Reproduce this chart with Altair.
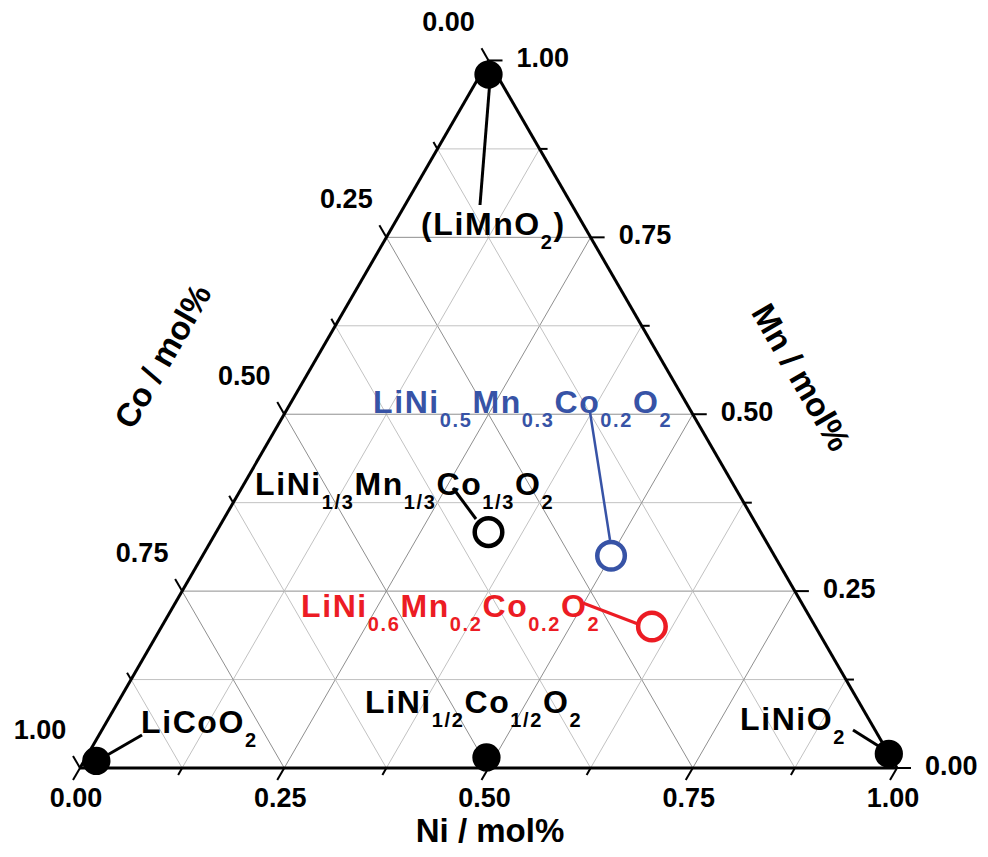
import math
import altair as alt
import pandas as pd

# ---------------- data ----------------
# compositions (Ni, Mn, Co) of the plotted materials
filled_names = ["LiMnO2", "LiCoO2", "LiNiO2", "LiNi1/2Co1/2O2"]
filled_ni = [0.01, 0.015, 0.98, 0.49]
filled_mn = [0.98, 0.01, 0.02, 0.015]

open_names = ["NMC111", "NMC532", "NMC622"]
open_ni = [1 / 3, 0.5, 0.6]
open_mn = [1 / 3, 0.3, 0.2]
open_colors = ["#000000", "#3753a6", "#ec1c24"]

major_ticks = [0.0, 0.25, 0.5, 0.75, 1.0]
major_labels = ["0.00", "0.25", "0.50", "0.75", "1.00"]
minor_ticks = [0.125, 0.375, 0.625, 0.875]
grid_steps = [0.125, 0.25, 0.375, 0.5, 0.625, 0.75, 0.875]

axis_titles = ["Ni / mol%", "Mn / mol%", "Co / mol%"]

# compound labels: (start px, baseline px, colour, [(text, is_subscript), ...])
label_specs = [
    (421, 235, "#000000", [("(LiMnO", 0), ("2", 1), (")", 0)]),
    (141, 733, "#000000", [("LiCoO", 0), ("2", 1)]),
    (740, 730, "#000000", [("LiNiO", 0), ("2", 1)]),
    (365, 713, "#000000", [("LiNi", 0), ("1/2", 1), ("Co", 0), ("1/2", 1), ("O", 0), ("2", 1)]),
    (255, 495, "#000000", [("LiNi", 0), ("1/3", 1), ("Mn", 0), ("1/3", 1), ("Co", 0), ("1/3", 1), ("O", 0), ("2", 1)]),
    (373, 413, "#3753a6", [("LiNi", 0), ("0.5", 1), ("Mn", 0), ("0.3", 1), ("Co", 0), ("0.2", 1), ("O", 0), ("2", 1)]),
    (301, 617, "#ec1c24", [("LiNi", 0), ("0.6", 1), ("Mn", 0), ("0.2", 1), ("Co", 0), ("0.2", 1), ("O", 0), ("2", 1)]),
]

# leader lines from label to marker (page px)
leaders = [
    ((490, 80), (480, 205), "#000000", 3),
    ((97, 761), (142, 735), "#000000", 3),
    ((853, 730), (888, 752), "#000000", 3),
    ((453, 488), (476, 519), "#000000", 3),
    ((590, 412), (610, 540), "#3753a6", 2.5),
    ((583, 603), (638, 624), "#ec1c24", 3),
]

# ---------------- geometry helpers ----------------
S = 817.0              # triangle side in px
W, H = 970, 841        # plot area
X0, Y0 = 80, 768       # page px of the Ni=0,Mn=0 corner
PAGE = 8
R3 = math.sqrt(3) / 2


def pp(xp, yp):
    return (xp - X0) / S, (Y0 - yp) / S


def tern(ni, mn):
    return ni + mn / 2, mn * R3


xdom = [(PAGE - X0) / S, (PAGE + W - X0) / S]
ydom = [(Y0 - PAGE - H) / S, (Y0 - PAGE) / S]
XS = alt.Scale(domain=xdom, nice=False, zero=False)
YS = alt.Scale(domain=ydom, nice=False, zero=False)

# ---------------- line segments ----------------
rules = []


def seg(a, b, color, w):
    rules.append(dict(x=a[0], y=a[1], x2=b[0], y2=b[1], c=color, w=w))


for t in grid_steps:
    col = "#8f8f8f" if abs(t * 4 - round(t * 4)) < 1e-9 else "#c2c2c2"
    seg(tern(0, t), tern(1 - t, t), col, 1)          # Mn const
    seg(tern(t, 0), tern(t, 1 - t), col, 1)          # Ni const
    seg(tern(1 - t, 0), tern(0, 1 - t), col, 1)      # Co const

# triangle edges
seg(tern(0, 0), tern(1, 0), "#000000", 3)
seg(tern(1, 0), tern(0, 1), "#000000", 3)
seg(tern(0, 1), tern(0, 0), "#000000", 3)

# ticks
for ticks, L in ((major_ticks, 14 / S), (minor_ticks, 8 / S)):
    for t in ticks:
        a = tern(t, 0)
        seg(a, (a[0] - 0.5 * L, a[1] - R3 * L), "#000000", 2)      # Ni (bottom)
        b = tern(1 - t, t)
        seg(b, (b[0] + L, b[1]), "#000000", 2)                    # Mn (right)
        c = tern(0, 1 - t)
        seg(c, (c[0] - 0.5 * L, c[1] + R3 * L), "#000000", 2)      # Co (left)

for a, b, col, w in leaders:
    seg(pp(*a), pp(*b), col, w)

rules_df = pd.DataFrame(rules)

rule_layer = alt.Chart(rules_df).mark_rule(strokeCap="butt").encode(
    x=alt.X("x:Q", scale=XS, axis=None),
    y=alt.Y("y:Q", scale=YS, axis=None),
    x2="x2:Q",
    y2="y2:Q",
    color=alt.Color("c:N", scale=None),
    strokeWidth=alt.StrokeWidth("w:Q", scale=None),
)

# ---------------- markers ----------------
fdf = pd.DataFrame({
    "name": filled_names,
    "x": [tern(n, m)[0] for n, m in zip(filled_ni, filled_mn)],
    "y": [tern(n, m)[1] for n, m in zip(filled_ni, filled_mn)],
})
filled_layer = alt.Chart(fdf).mark_point(
    shape="circle", filled=True, size=800, color="#000000", opacity=1
).encode(x=alt.X("x:Q", scale=XS, axis=None), y=alt.Y("y:Q", scale=YS, axis=None))

odf = pd.DataFrame({
    "name": open_names,
    "x": [tern(n, m)[0] for n, m in zip(open_ni, open_mn)],
    "y": [tern(n, m)[1] for n, m in zip(open_ni, open_mn)],
    "c": open_colors,
})
open_layer = alt.Chart(odf).mark_point(
    shape="circle", size=760, strokeWidth=4.5, fill="#ffffff", fillOpacity=1, opacity=1
).encode(
    x=alt.X("x:Q", scale=XS, axis=None),
    y=alt.Y("y:Q", scale=YS, axis=None),
    stroke=alt.Stroke("c:N", scale=None),
)

# ---------------- tick labels ----------------
bot = [dict(x=tern(t, 0)[0] - 4 / S, y=-31 / S, t=l) for t, l in zip(major_ticks, major_labels)]
left = [dict(x=tern(0, 1 - t)[0] - 40 / S, y=tern(0, 1 - t)[1] + 37 / S, t=l)
        for t, l in zip(major_ticks, major_labels)]
right = [dict(x=tern(1 - t, t)[0] + 28 / S, y=tern(1 - t, t)[1] + 1 / S, t=l)
         for t, l in zip(major_ticks, major_labels)]

center_lbl = alt.Chart(pd.DataFrame(bot + left)).mark_text(
    font="Liberation Sans", fontWeight="bold", fontSize=27, align="center", baseline="middle", color="#000000"
).encode(x=alt.X("x:Q", scale=XS, axis=None), y=alt.Y("y:Q", scale=YS, axis=None), text="t:N")

right_lbl = alt.Chart(pd.DataFrame(right)).mark_text(
    font="Liberation Sans", fontWeight="bold", fontSize=27, align="left", baseline="middle", color="#000000"
).encode(x=alt.X("x:Q", scale=XS, axis=None), y=alt.Y("y:Q", scale=YS, axis=None), text="t:N")

# ---------------- axis titles ----------------
tdf = pd.DataFrame([
    dict(x=pp(490, 832)[0], y=pp(490, 832)[1], t=axis_titles[0], a=0),
    dict(x=pp(800, 378)[0], y=pp(800, 378)[1], t=axis_titles[1], a=60),
    dict(x=pp(164, 357)[0], y=pp(164, 357)[1], t=axis_titles[2], a=300),
])
title_layer = alt.Chart(tdf).mark_text(
    font="Liberation Sans", fontWeight="bold", fontSize=33, align="center", baseline="middle", color="#000000"
).encode(
    x=alt.X("x:Q", scale=XS, axis=None), y=alt.Y("y:Q", scale=YS, axis=None),
    text="t:N", angle=alt.Angle("a:Q", scale=None),
)

# ---------------- compound labels (per character, with letter spacing) ----------------
AW = {"L": 611, "i": 278, "N": 722, "M": 833, "n": 611, "C": 722, "o": 611, "O": 778,
      "(": 333, ")": 333, ".": 278, "/": 278}
for d in "0123456789":
    AW[d] = 556

chars = []
for sx, sy, col, segs in label_specs:
    xpx = sx
    for txt, sub in segs:
        fs = 20 if sub else 32
        yb = sy + (14 if sub else 0)
        for ch in txt:
            X, Y = pp(xpx, yb)
            chars.append(dict(x=X, y=Y, t=ch, s=fs, c=col))
            xpx += AW[ch] / 1000 * fs + 1.6

chars_layer = alt.Chart(pd.DataFrame(chars)).mark_text(
    font="Liberation Sans", fontWeight="bold", align="left", baseline="alphabetic"
).encode(
    x=alt.X("x:Q", scale=XS, axis=None), y=alt.Y("y:Q", scale=YS, axis=None),
    text="t:N", size=alt.Size("s:Q", scale=None), color=alt.Color("c:N", scale=None),
)

chart = alt.layer(
    rule_layer, filled_layer, open_layer, center_lbl, right_lbl, title_layer, chars_layer
).properties(
    width=W, height=H, padding=0, autosize=alt.AutoSizeParams(type="none"), background="#ffffff"
).configure_view(strokeWidth=0)

chart.save("out.html", embed_options={"renderer": "svg", "actions": False})
